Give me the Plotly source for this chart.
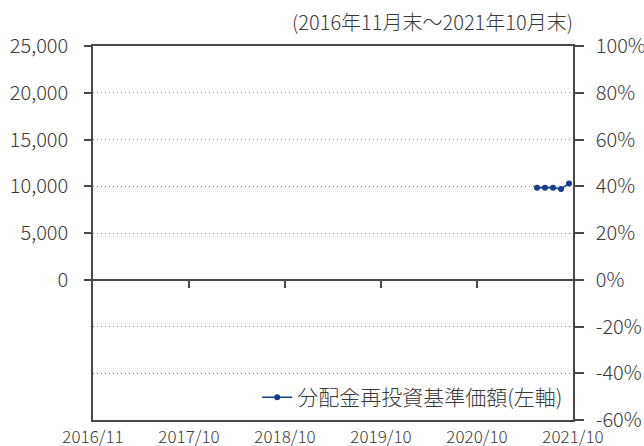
import plotly.graph_objects as go

# ---- data ----
months = []
for y in range(2016, 2022):
    for m in range(1, 13):
        if (y, m) < (2016, 11) or (y, m) > (2021, 10):
            continue
        months.append(f"{y}/{m:02d}")

nav_months = ["2021/06", "2021/07", "2021/08", "2021/09", "2021/10"]
nav_values = [9850, 9840, 9830, 9700, 10300]

x_tick_labels = ["2016/11", "2017/10", "2018/10", "2019/10", "2020/10", "2021/10"]
left_ticks = [0, 5000, 10000, 15000, 20000, 25000]
right_ticks = [-60, -40, -20, 0, 20, 40, 60, 80, 100]
right_tick_labels = [f"{v}%" for v in right_ticks]

series_name = "分配金再投資基準価額(左軸)"
period_text = "(2016年11月末～2021年10月末)"

# positions of points on the monthly scale (bin centres)
nav_x = [months.index(m) for m in nav_months]
tick_x = [-0.5 + 12 * i for i in range(len(x_tick_labels))]
tick_x[-1] = len(months) - 0.5

FONT = "Noto Sans CJK JP, Noto Sans, sans-serif"
TXT = "#3a3a3a"
AX = "#4d4646"
GRID = "#8a8a8a"
W = 300

fig = go.Figure()
fig.add_trace(go.Scatter(
    x=nav_x, y=nav_values, mode="lines+markers", name=series_name,
    line=dict(color="#163d8c", width=1.5),
    marker=dict(color="#163d8c", size=6),
))
fig.add_trace(go.Scatter(x=[None], y=[None], yaxis="y2", showlegend=False, hoverinfo="skip"))
fig.add_trace(go.Scatter(x=[None], y=[None], xaxis="x2", showlegend=False, hoverinfo="skip"))

xr = [-0.5, len(months) - 0.5]
fig.update_layout(
    width=644, height=446,
    margin=dict(l=93, r=71, t=46, b=26, autoexpand=False),
    paper_bgcolor="white", plot_bgcolor="white",
    font=dict(family=FONT, color=TXT, size=17, weight=W),
    showlegend=True,
    legend=dict(x=0.99, xanchor="right", y=0.06, yanchor="middle",
                bgcolor="rgba(0,0,0,0)", font=dict(size=21, color=TXT, weight=W),
                itemwidth=30, borderwidth=0),
    xaxis=dict(range=xr, tickmode="array", tickvals=tick_x, ticktext=x_tick_labels,
               automargin=False,
               showgrid=False, zeroline=False, showline=True, linecolor=AX, linewidth=1.5,
               mirror=True, ticks="",
               tickfont=dict(size=17, family="Liberation Sans Narrow, " + FONT),
               ticklabelstandoff=1),
    xaxis2=dict(range=xr, overlaying="x", anchor="free", position=0.375,
                automargin=False,
                tickmode="array", tickvals=tick_x[1:-1], showticklabels=False,
                showgrid=False, zeroline=False, showline=False,
                ticks="outside", ticklen=7, tickcolor=AX, tickwidth=1.5),
    yaxis=dict(range=[-15000, 25000], tickmode="array", tickvals=left_ticks,
               tickformat=",d", automargin=False,
               showgrid=True, gridcolor=GRID, griddash="1px,3px", gridwidth=1,
               zeroline=True, zerolinecolor=AX, zerolinewidth=1.5,
               showline=True, linecolor=AX, linewidth=1.5,
               ticks="outside", ticklen=7, tickcolor=AX, tickwidth=1.5,
               ticklabelstandoff=12, tickfont=dict(size=20, weight=W)),
    yaxis2=dict(range=[-60, 100], overlaying="y", side="right", tickmode="array",
                tickvals=right_ticks, ticktext=right_tick_labels, automargin=False,
                showgrid=True, gridcolor=GRID,
                griddash="1px,3px", gridwidth=1, zeroline=False,
                showline=True, linecolor=AX, linewidth=1.5,
                ticks="outside", ticklen=9, tickcolor=AX, tickwidth=1.5,
                ticklabelstandoff=8, tickfont=dict(size=20, weight=W)),
    annotations=[dict(text=period_text, xref="paper", yref="paper", x=1.005, y=1.0,
                      xanchor="right", yanchor="bottom", yshift=8, showarrow=False,
                      font=dict(size=20, color=TXT, weight=W))],
)

fig.write_html("out.html", config={"displayModeBar": False},
               post_script="document.body.style.margin='0';document.body.style.padding='0';")
